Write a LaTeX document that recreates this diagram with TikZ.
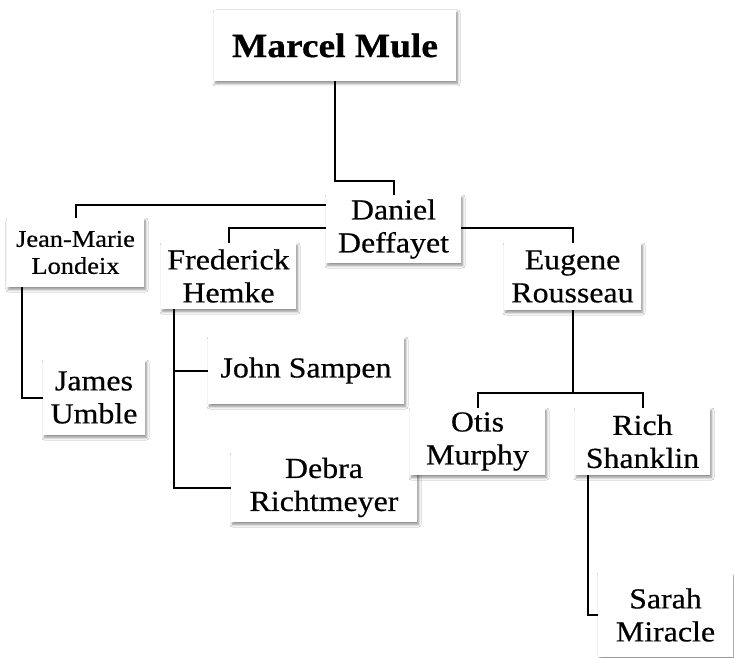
\documentclass[tikz,border=0pt]{standalone}
\usepackage{fontspec}
\setmainfont{Liberation Serif}[FakeStretch=1.1,FakeBold=0.5]
\usetikzlibrary{shadows.blur,calc}
\tikzset{
  person/.style={fill=white, draw=none, inner sep=0pt, align=center,
    font=\fontsize{29}{33}\selectfont,
    blur shadow={shadow xshift=1.5pt, shadow yshift=-2.5pt, shadow blur steps=8,
      shadow blur radius=2.5pt, shadow opacity=45}},
  link/.style={line width=2pt, black}
}
\begin{document}
\begin{tikzpicture}[x=1pt,y=-1pt]
\useasboundingbox[fill=white] (0,0) rectangle (734,658);
% nodes
\node[person, minimum width=242, minimum height=71, font=\bfseries\fontsize{34}{40}\selectfont] (mule) at (335,45.5) {Marcel Mule};
\node[person, minimum width=135, minimum height=68] (daniel) at (393.5,229) {Daniel\\Deffayet};
\node[person, minimum width=137, minimum height=69, font=\fontsize{24}{27}\selectfont] (jean) at (75.5,252.5) {Jean-Marie\\Londeix};
\node[person, minimum width=135, minimum height=66] (fred) at (228.5,276) {Frederick\\Hemke};
\node[person, minimum width=137, minimum height=67] (eugene) at (572.5,276.5) {Eugene\\Rousseau};
\node[person, minimum width=102, minimum height=75] (james) at (94,397.5) {James\\Umble};
\node[person, minimum width=196, minimum height=67] (john) at (306,370.5) {John Sampen};
\node[person, minimum width=186, minimum height=69] (debra) at (324,487.5) {Debra\\Richtmeyer};
\node[person, minimum width=135, minimum height=67] (otis) at (477.5,441.5) {Otis\\Murphy};
\node[person, minimum width=135, minimum height=67] (rich) at (642.5,441.5) {Rich\\Shanklin};
\node[person, minimum width=135, minimum height=84] (sarah) at (665.5,615) {Sarah\\Miracle};
% connectors
\draw[link] (mule.south) -- ++(0,100) -| (daniel.north);
\draw[link] ($(daniel.north west)+(0,10)$) -| (jean.north);
\draw[link] ($(daniel.north west)+(0,33)$) -| (fred.north);
\draw[link] ($(daniel.north east)+(0,33)$) -| (eugene.north);
\draw[link] (eugene.south) -- ++(0,83) coordinate (eb);
\draw[link] (eb) -| (otis.north);
\draw[link] (eb) -| (rich.north);
\draw[link] ($(jean.south west)+(15,0)$) |- (james.west);
\draw[link] ($(fred.south west)+(13,0)$) |- (john.west);
\draw[link] ($(fred.south west)+(13,0)$) |- (debra.west);
\draw[link] ($(rich.south west)+(13,0)$) |- (sarah.west);
\end{tikzpicture}
\end{document}
